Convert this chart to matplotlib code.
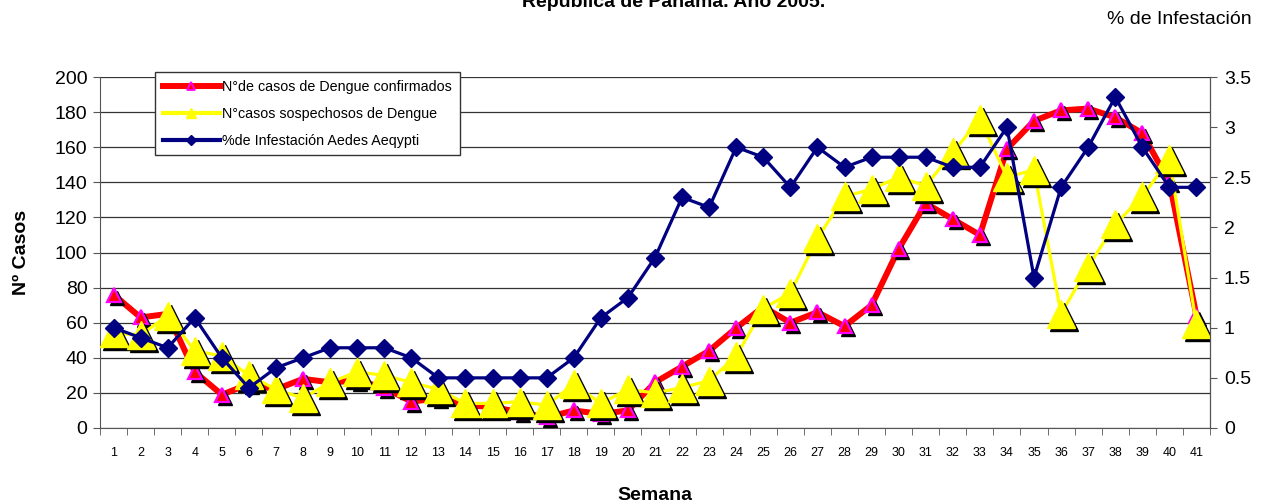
import numpy as np
import matplotlib
matplotlib.use("Agg")
import matplotlib.pyplot as plt
import matplotlib.transforms as mtransforms
from matplotlib.lines import Line2D

plt.rcParams['font.family'] = ['Liberation Sans', 'DejaVu Sans']

semanas = np.arange(1, 42)
confirmados = [76, 63, 65, 32, 19, 25, 22, 28, 26, 27, 23, 15, 17, 13, 12, 9, 6, 10, 8, 10,
               26, 35, 44, 57, 69, 60, 66, 58, 70, 102, 128, 119, 110, 159, 175, 181, 182,
               177, 168, 140, 64]
sospechosos = [54, 53, 64, 44, 41, 30, 22, 17, 26, 32, 30, 26, 22, 14, 14, 15, 13, 25, 14,
               22, 20, 23, 27, 41, 68, 77, 108, 132, 136, 143, 138, 157, 176, 143, 147, 65,
               92, 116, 132, 153, 59]
infestacion = [1.0, 0.9, 0.8, 1.1, 0.7, 0.4, 0.6, 0.7, 0.8, 0.8, 0.8, 0.7, 0.5, 0.5, 0.5,
               0.5, 0.5, 0.7, 1.1, 1.3, 1.7, 2.3, 2.2, 2.8, 2.7, 2.4, 2.8, 2.6, 2.7, 2.7, 2.7,
               2.6, 2.6, 3.0, 1.5, 2.4, 2.8, 3.3, 2.8, 2.4, 2.4]

lbl_conf = 'N°de casos de Dengue confirmados'
lbl_sosp = 'N°casos sospechosos de Dengue'
lbl_inf = '%de Infestación Aedes Aeqypti'

W, H = 1262, 504
fig = plt.figure(figsize=(W / 100, H / 100), dpi=100)
ax = fig.add_axes([100 / W, 1 - 428 / H, 1110 / W, 351 / H])
ax2 = ax.twinx()

# sombras negras de los marcadores
sombra = mtransforms.offset_copy(ax.transData, fig=fig, x=3, y=-3, units='dots')

# confirmados (rojo)
ax.plot(semanas, confirmados, color='red', lw=4.3, zorder=3, solid_capstyle='round')
ax.plot(semanas, confirmados, ls='none', marker='^', ms=9.5, color='black',
        transform=sombra, zorder=3.5)
ax.plot(semanas, confirmados, ls='none', marker='^', ms=9.5, mfc='red', mec='#FF00FF',
        mew=1.6, zorder=4)

# sospechosos (amarillo)
ax.plot(semanas, sospechosos, color='yellow', lw=2.3, zorder=5)
ax.plot(semanas, sospechosos, ls='none', marker='^', ms=20, color='black',
        transform=sombra, zorder=5.5)
ax.plot(semanas, sospechosos, ls='none', marker='^', ms=20, mfc='yellow', mec='yellow',
        zorder=6)

ax.set_xlim(0.5, 41.5)
ax.set_ylim(0, 200)
ax.set_yticks(range(0, 201, 20))
ax.set_xticks(semanas)
ax.set_xticks(np.arange(0.5, 42, 1), minor=True)
ax.tick_params(axis='x', which='major', length=0, labelsize=9, pad=14)
ax.tick_params(axis='x', which='minor', length=5, color='#555555')
ax.tick_params(axis='y', length=5, color='#555555', labelsize=14, pad=4)
ax.grid(axis='y', color='#333333', lw=0.9, zorder=0)
ax.set_axisbelow(True)
ax.spines['top'].set_visible(False)
ax2.spines['top'].set_visible(False)
for s in ['left', 'bottom']:
    ax.spines[s].set_color('#555555')
ax2.spines['right'].set_color('#555555')
ax2.spines['left'].set_visible(False)
ax2.spines['bottom'].set_visible(False)

ax.set_ylabel('Nº Casos', fontsize=14, fontweight='bold', labelpad=18)
ax.set_xlabel('Semana', fontsize=14, fontweight='bold', labelpad=20)

# infestacion (azul) en eje secundario
ax2.plot(semanas, infestacion, color='#000080', lw=2.3, marker='D', ms=9.5,
         mfc='#000080', mec='#000080', zorder=7)
ax2.set_ylim(0, 3.5)
ax2.set_yticks(np.arange(0, 3.51, 0.5))
ax2.set_yticklabels(['0', '0.5', '1', '1.5', '2', '2.5', '3', '3.5'])
ax2.tick_params(axis='y', length=5, color='#555555', labelsize=14, pad=5)

handles = [
    Line2D([], [], color='red', lw=4.3, marker='^', ms=6, mfc='red', mec='#FF00FF', mew=1.3),
    Line2D([], [], color='yellow', lw=3, marker='^', ms=7, mfc='yellow', mec='yellow'),
    Line2D([], [], color='#000080', lw=3, marker='D', ms=5, mfc='#000080', mec='#000080'),
]
leg = ax2.legend(handles, [lbl_conf, lbl_sosp, lbl_inf], loc='upper left',
                 bbox_to_anchor=(155 / W, 1 - 72 / H), bbox_transform=fig.transFigure,
                 fontsize=10.3, frameon=True, fancybox=False, framealpha=1,
                 edgecolor='#333333', handlelength=4.0, handletextpad=0.15,
                 labelspacing=0.9, borderpad=0.55, borderaxespad=0)
leg.get_frame().set_linewidth(1.0)
leg.set_zorder(20)

fig.text(674 / W, 1 - 7 / H, 'República de Panamá. Año 2005.', fontsize=14,
         fontweight='bold', ha='center', va='baseline')
fig.text(1252 / W, 1 - 20 / H, '% de Infestación', fontsize=14, ha='right', va='center')

fig.savefig('out.png', dpi=100)
